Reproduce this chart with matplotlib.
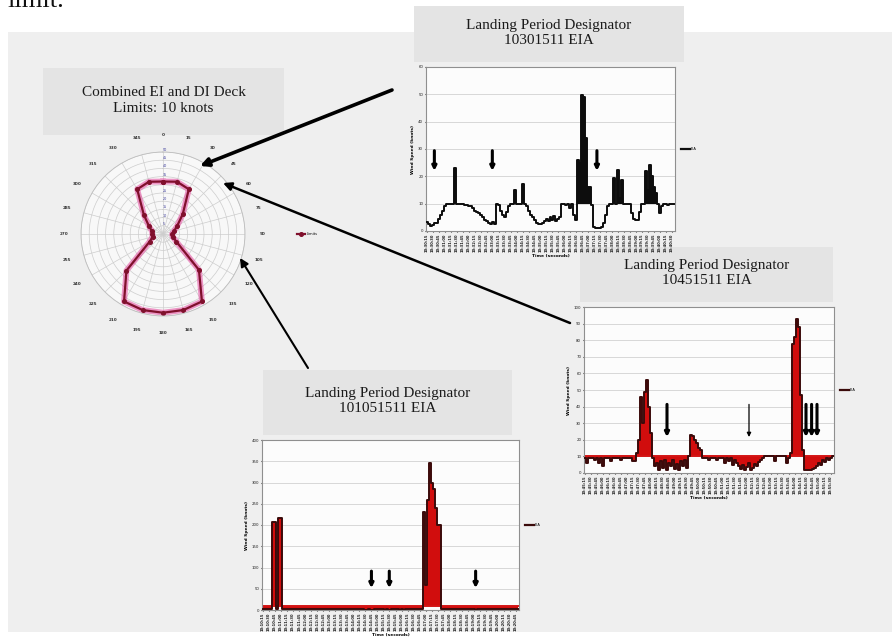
import numpy as np
import matplotlib
matplotlib.use("Agg")
import matplotlib.pyplot as plt
from matplotlib.patches import Rectangle

W, H = 894, 639

# combined EI / DI deck limits, relative wind angle (deg) -> knots
deck_angles = [0, 15, 30, 45, 60, 75, 90, 105, 120, 135, 150, 165,
               180, 195, 210, 225, 240, 255, 270, 285, 300, 315, 330, 345]
deck_limits = [32, 33, 31.5, 17, 10, 7, 5.5, 6, 9.5, 31, 47.5, 48,
               48, 48, 47.5, 31.5, 9.5, 6.5, 6.5, 7, 10, 16.5, 31.5, 33]

# landing period designator 10301511 EIA
lpd_1030 = [3.3, 2.5, 2.0, 2.2, 2.8, 3.0, 4.5, 6.0, 7.5, 9.0,
            9.8, 10, 10, 10, 23, 10, 10, 10, 9.8, 9.5,
            9.6, 9.0, 9.0, 8.5, 7.5, 7.0, 6.5, 6.0, 5.0, 4.0,
            3.5, 3.0, 2.5, 3.2, 2.5, 10, 9.5, 7.5, 6.0, 5.0,
            7.0, 9.0, 10, 10, 15, 10, 10, 10, 17.3, 10,
            9.0, 7.5, 6.0, 5.0, 4.0, 3.0, 2.7, 2.5, 3.0, 3.5,
            4.5, 3.5, 5.0, 4.0, 5.5, 3.5, 4.5, 5.0, 10, 10,
            9.5, 10, 8.5, 10, 6.0, 4.0, 26, 25, 49.8, 49,
            34, 16, 16, 9.5, 1.6, 1.0, 1.0, 1.2, 1.5, 3.0,
            6.0, 9.0, 10, 10, 19.3, 10, 22.3, 12, 18.7, 10,
            10, 10, 10, 6.6, 4.5, 4.0, 4.0, 7.0, 10, 10,
            22, 15, 24, 20, 16, 14, 10, 6.6, 9.0, 10,
            10, 9.5, 10, 10, 10]
arrows_1030 = [3.7, 32.8, 85.3]

# landing period designator 10451511 EIA
lpd_1045 = [9, 6, 9, 9, 9, 8, 9, 6, 9, 4,
            9, 9, 9, 7, 9, 9, 9, 9, 8, 9,
            9, 9, 9, 9, 7, 7, 12, 20, 46, 30,
            49, 56, 40, 24, 9, 4, 6, 2, 7, 3,
            8, 2, 6, 4, 8, 2.4, 5.6, 2, 7, 4,
            8, 3, 10, 23, 22, 20, 18, 15, 14, 9,
            9, 9, 8, 9, 9, 9, 7.6, 9, 9, 9,
            6, 9, 7, 9, 5, 8, 6, 4, 2.4, 5,
            2, 3.6, 6, 2, 3, 5.6, 4, 6.4, 8, 9,
            10, 10, 10, 10, 10, 7, 10, 10, 10, 10,
            10, 6, 9, 12, 78, 82, 93, 88, 47, 14,
            2, 2, 1.6, 2, 2.4, 3, 4, 6, 5, 8,
            6.4, 9, 7.6, 9, 10]
arrows_1045 = [41, 82, 110.5, 113.3, 116]

# landing period designator 101051511 EIA
lpd_1010 = [3, 3, 3, 3, 3, 208, 208, 3, 216, 216,
            3, 3, 3, 3, 3, 3, 3, 3, 3, 3,
            3, 3, 3, 3, 3, 3, 3, 3, 3, 3,
            3, 3, 3, 3, 3, 3, 3, 3, 3, 3,
            3, 3, 3, 3, 3, 3, 3, 3, 3, 3,
            2, 0.5, 1, 2.5, 0, 1, 2, 3, 3, 3,
            1.5, 0.5, 2, 0.5, 3, 3, 3, 2, 0.5, 1.5,
            1, 3, 3, 3, 3, 3, 3, 3, 3, 3,
            231, 60, 260, 345, 300, 284, 240, 200, 199, 3,
            3, 3, 3, 3, 3, 3, 3, 3, 3, 3,
            3, 3, 3, 3, 3, 1.5, 0.5, 1.5, 2, 3,
            3, 3, 3, 3, 3, 3, 3, 3, 3, 3,
            3, 3, 3, 3, 3, 3, 3, 3]
arrows_1010 = [54, 62.9, 105.9]

TITLE_FONT = "Liberation Serif"
SMALL_FONT = "DejaVu Sans"

fig = plt.figure(figsize=(W / 100, H / 100), dpi=100)
fig.patch.set_facecolor("white")


def px_axes(x0, y0, x1, y1, **kw):
    return fig.add_axes([x0 / W, 1 - y1 / H, (x1 - x0) / W, (y1 - y0) / H], **kw)


# background layer: grey slide panel and title boxes
bg = px_axes(0, 0, W, H)
bg.set_xlim(0, W)
bg.set_ylim(H, 0)
bg.axis("off")
bg.add_patch(Rectangle((8, 32), 884, 600, color="#efefef", lw=0))

boxes = [
    ((43, 68, 284, 135), "Combined EI and DI Deck\nLimits: 10 knots"),
    ((414, 6, 684, 62), "Landing Period Designator\n10301511 EIA"),
    ((580, 247, 833, 302), "Landing Period Designator\n10451511 EIA"),
    ((263, 370, 512, 435), "Landing Period Designator\n101051511 EIA"),
]
for (x0, y0, x1, y1), label in boxes:
    bg.add_patch(Rectangle((x0, y0), x1 - x0, y1 - y0, color="#e4e4e4", lw=0))
    bg.text((x0 + x1) / 2, (y0 + y1) / 2 - 1, label, ha="center", va="center",
            fontsize=11, family=TITLE_FONT, color="#1a1a1a", linespacing=1.2)

# tail of the sentence above the slide
fig.text(7 / W, 1 - 7 / H, "limit.", fontsize=19, family=TITLE_FONT,
         va="baseline", color="#111111")


def time_labels(start, n, step):
    h, m, s = [int(p) for p in start.split(":")]
    t0 = h * 3600 + m * 60 + s
    out = []
    for k in range(n):
        t = t0 + k * step
        out.append(f"{t // 3600}:{(t // 60) % 60:02d}:{t % 60:02d}")
    return out


def draw_lpd(ax, values, arrows, ymax, ystep, limit, line_color, fill_color,
             limit_color, fill_below, arrow_span, start, thin=()):
    x = np.arange(len(values))
    v = np.array(values, dtype=float)
    ax.set_facecolor("#fcfcfc")
    if fill_below:
        ax.fill_between(x, v, limit, step="mid", color=fill_color, lw=0)
    else:
        ax.fill_between(x, np.maximum(v, limit), limit, step="mid",
                        color=fill_color, lw=0)
    if limit_color:
        ax.axhline(limit, color=limit_color, lw=1.4, zorder=2)
    ax.step(x, v, where="mid", color=line_color, lw=1.4, zorder=3,
            label="EIA")
    for k, xa in enumerate(arrows):
        lw = 0.9 if k in thin else 2.2
        ax.annotate("", xy=(xa, arrow_span[1]), xytext=(xa, arrow_span[0]),
                    arrowprops=dict(arrowstyle="-|>", color="black", lw=lw,
                                    mutation_scale=6), zorder=4)
    ax.set_xlim(-0.5, len(values) - 0.5)
    ax.set_ylim(0, ymax)
    ax.set_yticks(np.arange(0, ymax + 0.1, ystep))
    ax.tick_params(axis="y", labelsize=2.8, length=1, pad=1, colors="#222222")
    ticks = np.arange(0, len(values), 3)
    labels = time_labels(start, len(ticks), 15)
    ax.set_xticks(ticks)
    ax.set_xticklabels(labels, rotation=90, fontsize=2.7, fontweight="bold",
                       family=SMALL_FONT)
    ax.tick_params(axis="x", length=1, pad=1, colors="#222222")
    ax.grid(axis="y", color="#d2d2d2", lw=0.6)
    ax.set_axisbelow(True)
    for sp in ax.spines.values():
        sp.set_color("#8f8f8f")
        sp.set_linewidth(0.8)
    ax.set_xlabel("Time (seconds)", fontsize=3.2, fontweight="bold", labelpad=1)
    ax.set_ylabel("Wind Speed (knots)", fontsize=3.2, fontweight="bold",
                  labelpad=2)
    leg = ax.legend(loc="center left", bbox_to_anchor=(1.01, 0.5), fontsize=2.6,
                    frameon=False, handlelength=2.5, handletextpad=0.3)
    for line in leg.get_lines():
        line.set_linewidth(1.6)


ax1 = px_axes(426, 67, 675, 231)
draw_lpd(ax1, lpd_1030, arrows_1030, 60, 10, 10, "#0d0d0d", "#0d0d0d", None,
         False, (30.4, 21), "10:30:15")

ax2 = px_axes(584, 307, 834, 473)
draw_lpd(ax2, lpd_1045, arrows_1045, 100, 10, 10, "#3a0a0a", "#d10d0d",
         "#d41515", True, (43, 20), "10:45:15", thin=(1,))

ax3 = px_axes(262, 440, 519, 610)
draw_lpd(ax3, lpd_1010, arrows_1010, 400, 50, 10, "#3a0a0a", "#d10d0d",
         "#d41515", True, (98, 45), "10:10:15")

# polar deck-limit envelope
axp = px_axes(81, 152, 245, 316, projection="polar")
axp.set_facecolor("#f8f8f8")
axp.set_theta_zero_location("N")
axp.set_theta_direction(-1)
th = np.deg2rad(deck_angles + [deck_angles[0]])
rr = deck_limits + [deck_limits[0]]
axp.plot(th, rr, color="#e3459b", lw=4.2, alpha=0.55)
axp.plot(th, rr, color="#80102c", lw=1.6, marker="o", ms=2.6,
         label="Limits")
axp.set_ylim(0, 50)
axp.set_yticks(np.arange(5, 51, 5))
axp.set_yticklabels([str(r) for r in range(5, 51, 5)], fontsize=2.4,
                    color="#3a3a9a")
axp.set_rlabel_position(0)
axp.set_thetagrids(deck_angles, labels=[str(a) for a in deck_angles],
                   fontsize=3, color="#333333", fontweight="bold")
axp.tick_params(axis="x", pad=2)
axp.grid(color="#cdcdcd", lw=0.5)
axp.spines["polar"].set_color("#bdbdbd")
axp.spines["polar"].set_linewidth(0.6)
leg = axp.legend(loc="center left", bbox_to_anchor=(1.3, 0.5), fontsize=2.6,
                 frameon=False, handlelength=2.2, handletextpad=0.3)

# callout arrows linking the charts to the envelope
ov = px_axes(0, 0, W, H)
ov.set_xlim(0, W)
ov.set_ylim(H, 0)
ov.axis("off")
ov.patch.set_alpha(0)
callouts = [((392, 90), (200, 166), 2.6),
            ((570, 323), (223, 183), 1.8),
            ((308, 368), (240, 258), 1.5)]
for tail, head, lw in callouts:
    ov.annotate("", xy=head, xytext=tail,
                arrowprops=dict(arrowstyle="-|>", color="black", lw=lw,
                                mutation_scale=12, shrinkA=0, shrinkB=0))

fig.savefig("out.png", dpi=100)
